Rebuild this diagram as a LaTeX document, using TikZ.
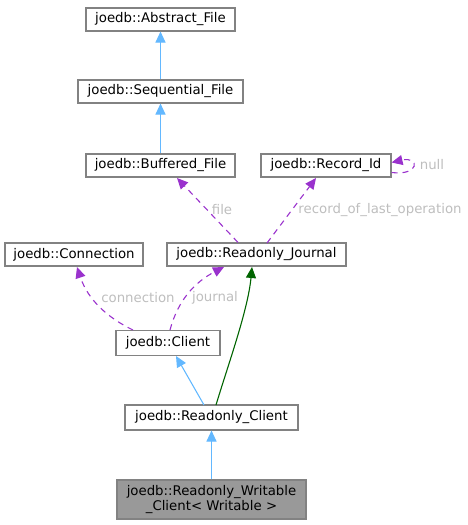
\documentclass[tikz,border=0pt]{standalone}
\usepackage{fontspec}
\setmainfont{DejaVu Sans}
\usetikzlibrary{arrows.meta}
\definecolor{inh}{RGB}{99,184,255}
\definecolor{use}{RGB}{154,50,205}
\definecolor{pub}{RGB}{0,100,0}
\definecolor{bord}{RGB}{130,130,130}
\definecolor{lbl}{RGB}{190,190,190}
\definecolor{cur}{RGB}{153,153,153}
\tikzset{
  cls/.style={draw=bord, line width=1.1pt, fill=white, inner sep=0pt, font=\fontsize{13.3}{14.5}\selectfont, align=center},
  inhe/.style={draw=inh, line width=1.1pt, -{Triangle[length=11pt,width=10pt]}},
  usee/.style={draw=use, line width=1.1pt, dash pattern=on 6pt off 5pt, -{Triangle[length=11pt,width=10pt]}},
  pube/.style={draw=pub, line width=1.1pt, -{Triangle[length=11pt,width=10pt]}},
  elbl/.style={text=lbl, font=\fontsize{13.3}{14.5}\selectfont, inner sep=0pt}
}
\begin{document}
\begin{tikzpicture}[x=1pt,y=-1pt]
\useasboundingbox (0,0) rectangle (467,525);
\node[cls, minimum width=149pt, minimum height=23pt] (af) at (160.5,19.5) {joedb::Abstract\_File};
\node[cls, minimum width=165pt, minimum height=23pt] (sf) at (160.5,91.5) {joedb::Sequential\_File};
\node[cls, minimum width=149pt, minimum height=23pt] (bf) at (160.5,165.5) {joedb::Buffered\_File};
\node[cls, minimum width=130pt, minimum height=23pt] (ri) at (326,165.5) {joedb::Record\_Id};
\node[cls, minimum width=138pt, minimum height=23pt] (cn) at (74,254.5) {joedb::Connection};
\node[cls, minimum width=179pt, minimum height=23pt] (rj) at (256.5,254.5) {joedb::Readonly\_Journal};
\node[cls, minimum width=104pt, minimum height=25pt] (cl) at (168,343) {joedb::Client};
\node[cls, minimum width=173pt, minimum height=25pt] (rc) at (211.5,417.5) {joedb::Readonly\_Client};
\node[cls, fill=cur, minimum width=189pt, minimum height=39pt] (rwc) at (211.5,499.5) {joedb::Readonly\_Writable\\\_Client\textless{} Writable \textgreater};

\draw[inhe] (sf) -- (af);
\draw[inhe] (bf) -- (sf);
\draw[usee] (rj.north -| 238,0) -- (177,178);
\draw[usee] (267,243) -- (316,178);
\draw[usee] ([yshift=-7pt]ri.east) .. controls (420,176) and (420,156) .. ([yshift=3pt]ri.east);
\draw[usee] (133,330) .. controls (108,318) and (88,300) .. (77,267);
\draw[usee] (170,330) .. controls (178,300) and (195,282) .. (224,267);
\draw[pube] (216,405) .. controls (228,365) and (248,310) .. (252,267);
\draw[inhe] (204,405) -- (176,356);
\draw[inhe] (rwc) -- (rc);

\node[elbl] (l1) at (222,210) {file};
\node[elbl] (l2) at (380,210) {record\_of\_last\_operation};
\node[elbl] (l3) at (432,165) {null};
\node[elbl] (l4) at (138,298) {connection};
\node[elbl] (l5) at (215,298) {journal};
\end{tikzpicture}
\end{document}
